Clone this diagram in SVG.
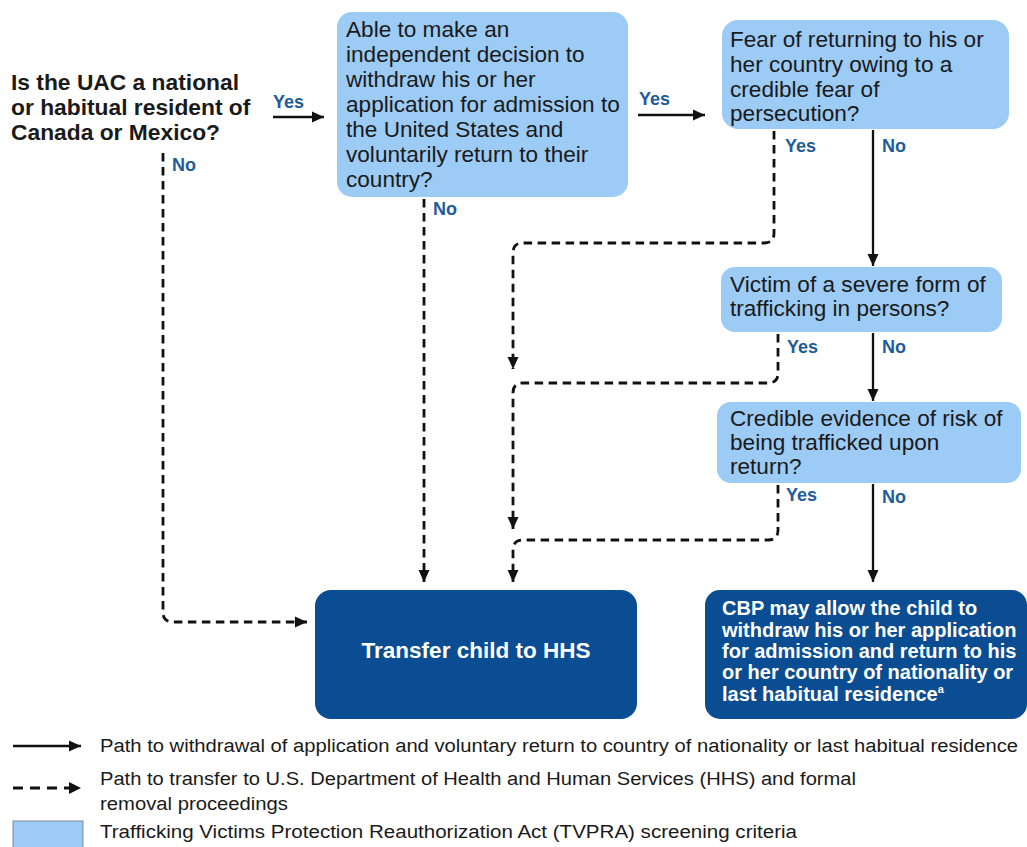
<svg xmlns="http://www.w3.org/2000/svg" width="1027" height="847" viewBox="0 0 1027 847">
<style>
.q{fill:#9ccbf5}
.d{fill:#0a4d92}
.t{font-family:"Liberation Sans",Arial,sans-serif;font-size:22.6px;fill:#1a1a1a}
.b{font-family:"Liberation Sans",Arial,sans-serif;font-weight:bold;fill:#1a1a1a}
.w{font-family:"Liberation Sans",Arial,sans-serif;font-weight:bold;fill:#ffffff}
.l{font-family:"Liberation Sans",Arial,sans-serif;font-weight:bold;font-size:18px;fill:#1f5c99}
.g{font-family:"Liberation Sans",Arial,sans-serif;font-size:18px;fill:#1a1a1a}
.s{fill:none;stroke:#111;stroke-width:2.3}
.ds{fill:none;stroke:#111;stroke-width:2.8;stroke-dasharray:8.5 5.5}
</style>
<defs>
<marker id="ah" markerUnits="userSpaceOnUse" markerWidth="14" markerHeight="14" refX="12" refY="7" orient="auto">
<path d="M0,1.5 L12,7 L0,12.5 z" fill="#111"/>
</marker>
</defs>
<rect width="1027" height="847" fill="#ffffff"/>

<g id="q1">
<text class="b" font-size="22.8" x="11" y="90">Is the UAC a national</text>
<text class="b" font-size="22.8" x="11" y="115">or habitual resident of</text>
<text class="b" font-size="22.8" x="11" y="140">Canada or Mexico?</text>
</g>

<g id="q2">
<rect class="q" x="337" y="12" width="291" height="185" rx="15"/>
<text class="t" x="346" y="37">Able to make an</text>
<text class="t" x="346" y="62">independent decision to</text>
<text class="t" x="346" y="87">withdraw his or her</text>
<text class="t" x="346" y="112">application for admission to</text>
<text class="t" x="346" y="137">the United States and</text>
<text class="t" x="346" y="162">voluntarily return to their</text>
<text class="t" x="346" y="187">country?</text>
</g>

<g id="q3">
<rect class="q" x="722" y="20" width="287" height="109" rx="16"/>
<text class="t" x="730" y="47">Fear of returning to his or</text>
<text class="t" x="730" y="72">her country owing to a</text>
<text class="t" x="730" y="97">credible fear of</text>
<text class="t" x="730" y="121">persecution?</text>
</g>

<g id="q4">
<rect class="q" x="721" y="267" width="281" height="65" rx="14"/>
<text class="t" x="730" y="292">Victim of a severe form of</text>
<text class="t" x="730" y="316">trafficking in persons?</text>
</g>

<g id="q5">
<rect class="q" x="717" y="402" width="304" height="81" rx="14"/>
<text class="t" x="730" y="426">Credible evidence of risk of</text>
<text class="t" x="730" y="450">being trafficked upon</text>
<text class="t" x="730" y="474">return?</text>
</g>

<g id="hhs">
<rect class="d" x="315" y="590" width="322" height="129" rx="16"/>
<text class="w" font-size="22.5" x="476" y="658" text-anchor="middle">Transfer child to HHS</text>
</g>

<g id="cbp">
<rect class="d" x="705" y="590" width="322" height="129" rx="15"/>
<text class="w" font-size="20" x="722" y="615">CBP may allow the child to</text>
<text class="w" font-size="20" x="722" y="637">withdraw his or her application</text>
<text class="w" font-size="20" x="722" y="658">for admission and return to his</text>
<text class="w" font-size="20" x="722" y="679">or her country of nationality or</text>
<text class="w" font-size="20" x="722" y="701">last habitual residence<tspan font-size="11" dy="-8">a</tspan></text>
</g>

<g id="connectors">
<path class="s" d="M273,117 H324" marker-end="url(#ah)"/>
<path class="ds" d="M163,153 V612 Q163,622 173,622 H307" marker-end="url(#ah)"/>
<path class="s" d="M638,115 H705" marker-end="url(#ah)"/>
<path class="ds" d="M424,199 V582" marker-end="url(#ah)"/>
<path class="ds" d="M774,131 V233 Q774,243 764,243 H523 Q513,243 513,253 V369" marker-end="url(#ah)"/>
<path class="s" d="M873,130 V266" marker-end="url(#ah)"/>
<path class="ds" d="M778,334 V373 Q778,383 768,383 H523 Q513,383 513,393 V529" marker-end="url(#ah)"/>
<path class="s" d="M873,333 V401" marker-end="url(#ah)"/>
<path class="ds" d="M778,485 V530 Q778,540 768,540 H523 Q513,540 513,550 V582" marker-end="url(#ah)"/>
<path class="s" d="M873,484 V582" marker-end="url(#ah)"/>
<text class="l" x="273" y="108">Yes</text>
<text class="l" x="172" y="171">No</text>
<text class="l" x="639" y="105">Yes</text>
<text class="l" x="433" y="215">No</text>
<text class="l" x="785" y="152">Yes</text>
<text class="l" x="882" y="152">No</text>
<text class="l" x="787" y="353">Yes</text>
<text class="l" x="882" y="353">No</text>
<text class="l" x="786" y="501">Yes</text>
<text class="l" x="882" y="503">No</text>
</g>

<g id="legend">
<path class="s" d="M13,746 H81" marker-end="url(#ah)"/>
<text class="g" x="100" y="752" textLength="918" lengthAdjust="spacingAndGlyphs">Path to withdrawal of application and voluntary return to country of nationality or last habitual residence</text>
<path d="M13,788 H70" fill="none" stroke="#111" stroke-width="2.8" stroke-dasharray="10 7"/>
<path d="M69,782 L81,788 L69,794 z" fill="#111"/>
<text class="g" x="100" y="785" textLength="756" lengthAdjust="spacingAndGlyphs">Path to transfer to U.S. Department of Health and Human Services (HHS) and formal</text>
<text class="g" x="100" y="810" textLength="188" lengthAdjust="spacingAndGlyphs">removal proceedings</text>
<rect x="13" y="821" width="70" height="32" fill="#9ccbf5" stroke="#7f8c99" stroke-width="1"/>
<text class="g" x="100" y="838" textLength="697" lengthAdjust="spacingAndGlyphs">Trafficking Victims Protection Reauthorization Act (TVPRA) screening criteria</text>
</g>
</svg>
